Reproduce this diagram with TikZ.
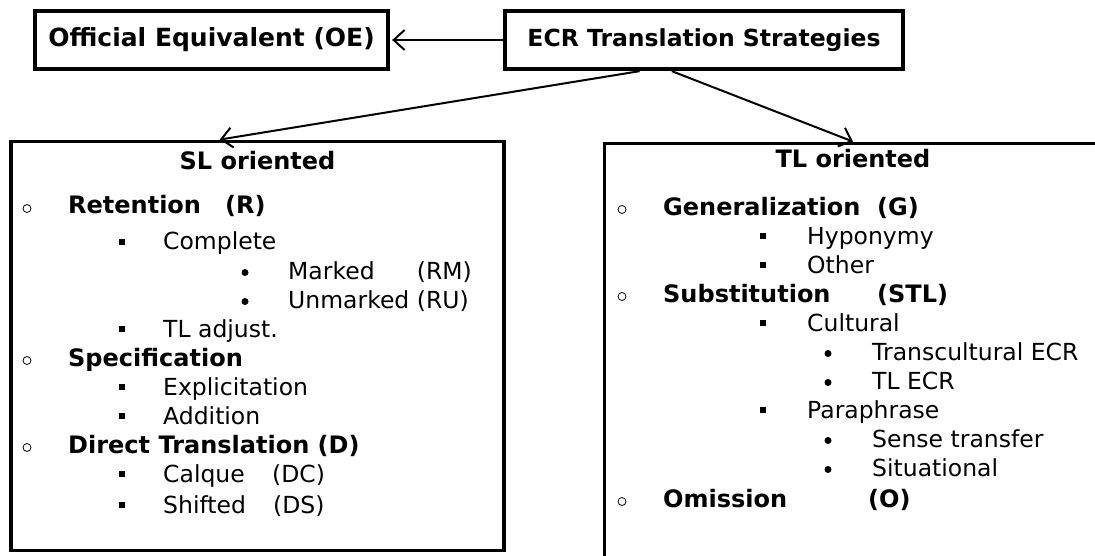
\documentclass[tikz,border=0pt]{standalone}
\usepackage{fontspec}
\setmainfont{DejaVu Sans}
\usetikzlibrary{arrows.meta}
\usetikzlibrary{calc}
\usetikzlibrary{positioning}

\begin{document}
\begin{tikzpicture}[x=1pt,y=-1pt,
    font=\fontsize{23.5pt}{28pt}\selectfont,
    framebox/.style={draw, line width=3.8pt, inner sep=0pt},
    head/.style={anchor=base, inner sep=0pt, font=\fontsize{24pt}{28pt}\selectfont\bfseries},
    itemone/.style={anchor=base west, inner sep=0pt, font=\fontsize{24pt}{28pt}\selectfont\bfseries},
    itemtwo/.style={anchor=base west, inner sep=0pt},
    ringbullet/.style={circle, draw, line width=0.8pt, minimum size=8pt, inner sep=0pt},
    squarebullet/.style={rectangle, fill, minimum size=6.5pt, inner sep=0pt},
    dotbullet/.style={circle, fill, minimum size=7pt, inner sep=0pt},
    link/.style={line width=2pt, -{Straight Barb[length=11pt,width=20pt]}}]

    \useasboundingbox (0,0) rectangle (1095,556);

    % Top boxes
    \node[framebox, font=\fontsize{25pt}{28pt}\selectfont\bfseries, minimum width=353.5pt, minimum height=58.5pt] (oe) at (211.5,40) {Official Equivalent (OE)};
    \node[framebox, font=\fontsize{23.5pt}{28pt}\selectfont\bfseries, minimum width=398.5pt, minimum height=58.5pt] (ecr) at (704,40) {ECR Translation Strategies};

    % Boxes below (the TL one runs off the page)
    \node[framebox, minimum width=493pt, minimum height=409pt] (slbox) at (257.5,346) {};
    \node[framebox, minimum width=497pt, minimum height=426.5pt] (tlbox) at (853,356.75) {};

    % Arrows
    \draw[link, shorten >=2pt] (ecr.west) -- (oe.east);
    \draw[link] ($(ecr.south west)!0.34!(ecr.south east)$) -- ($(slbox.north west)!0.424!(slbox.north east)$);
    \draw[link] ($(ecr.south west)!0.42!(ecr.south east)$) -- (tlbox.north);

    % Headings
    \node[head] (slhead) at (slbox.north |- 0,170) {SL oriented};
    \node[head] (tlhead) at (tlbox.north |- 0,168) {TL oriented};

    % SL oriented list
    \foreach \i/\lv/\yy/\txt in {
        1/1/214/{\makebox[157pt][l]{Retention}(R)},
        2/2/250/Complete,
        3/3/279/{\rlap{Marked}\phantom{Unmarked}~(RM)},
        4/3/308/{Unmarked (RU)},
        5/2/337/{TL adjust.},
        6/1/366/Specification,
        7/2/395/Explicitation,
        8/2/424/Addition,
        9/1/453/{Direct Translation (D)},
        10/2/482/{\makebox[109pt][l]{Calque}(DC)},
        11/2/513/{\makebox[110pt][l]{Shifted}(DS)}} {
        \ifcase\lv\or
            \node[ringbullet] (slb\i) at (27,\yy-5.5) {};
            \node[itemone] (sl\i) at (68,\yy) {\txt};
        \or
            \node[squarebullet] (slb\i) at (122,\yy-8) {};
            \node[itemtwo] (sl\i) at (163,\yy) {\txt};
        \or
            \node[dotbullet] (slb\i) at (245,\yy-6.5) {};
            \node[itemtwo] (sl\i) at (288,\yy) {\txt};
        \fi
    }

    % TL oriented list
    \foreach \i/\lv/\yy/\txt in {
        1/1/215/{Generalization~~(G)},
        2/2/244/Hyponymy,
        3/2/273/Other,
        4/1/302/{\makebox[214pt][l]{Substitution}(STL)},
        5/2/331/Cultural,
        6/3/360/{Transcultural ECR},
        7/3/389/{TL ECR},
        8/2/418/Paraphrase,
        9/3/447/{Sense transfer},
        10/3/476/Situational,
        11/1/507/{\makebox[205pt][l]{Omission}(O)}} {
        \ifcase\lv\or
            \node[ringbullet] (tlb\i) at (622,\yy-5.5) {};
            \node[itemone] (tl\i) at (663,\yy) {\txt};
        \or
            \node[squarebullet] (tlb\i) at (763,\yy-8) {};
            \node[itemtwo] (tl\i) at (807,\yy) {\txt};
        \or
            \node[dotbullet] (tlb\i) at (828,\yy-6.5) {};
            \node[itemtwo] (tl\i) at (872,\yy) {\txt};
        \fi
    }
\end{tikzpicture}
\end{document}
